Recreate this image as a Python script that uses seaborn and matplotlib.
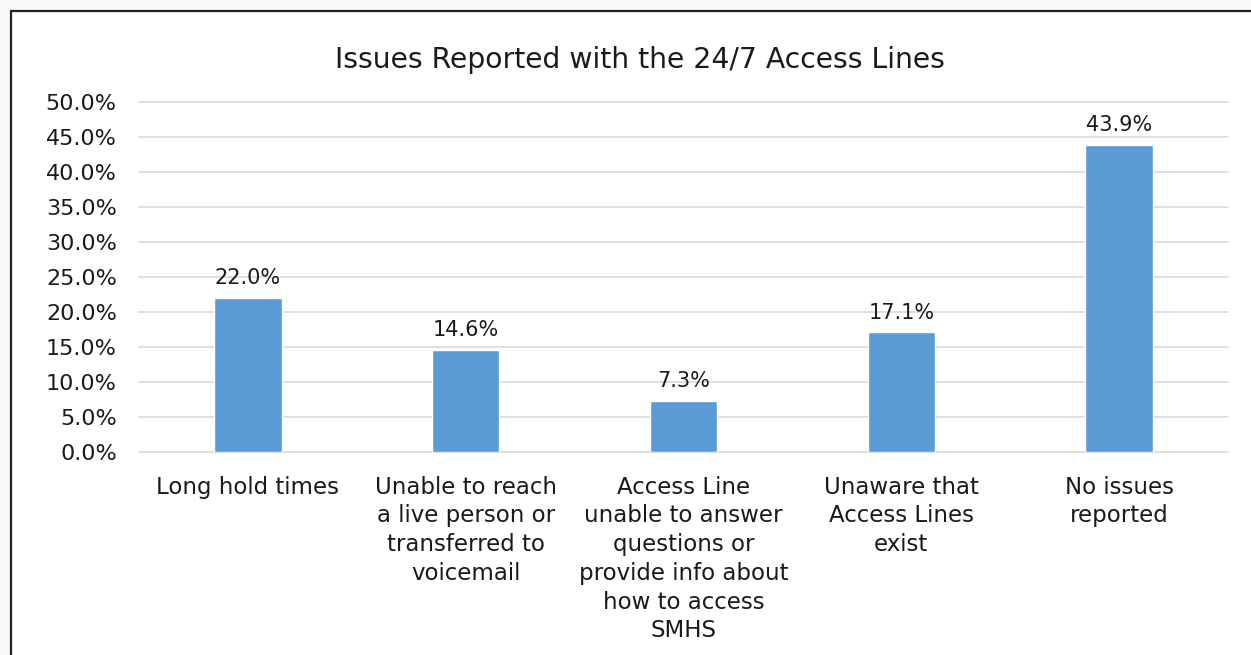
import matplotlib
matplotlib.use("Agg")
import matplotlib.pyplot as plt
from matplotlib.patches import Rectangle
from matplotlib.ticker import PercentFormatter
import pandas as pd
import seaborn as sns

categories = [
    "Long hold times",
    "Unable to reach\na live person or\ntransferred to\nvoicemail",
    "Access Line\nunable to answer\nquestions or\nprovide info about\nhow to access\nSMHS",
    "Unaware that\nAccess Lines\nexist",
    "No issues\nreported",
]
shares = [22.0, 14.6, 7.3, 17.1, 43.9]
y_ticks = [0, 5, 10, 15, 20, 25, 30, 35, 40, 45, 50]

df = pd.DataFrame({"issue": categories, "share": shares})

sns.set_theme(style="white")
plt.rcParams["font.family"] = ["DejaVu Sans"]
text_color = "#1a1a1a"

fig = plt.figure(figsize=(12.51, 6.55), dpi=100, facecolor="#fafafa")
# white chart card with a dark frame on the top and left edges
W, H = 1251, 655
fig.patches.append(Rectangle((10.5 / W, 0), 1 - 10.5 / W, 1 - 10.5 / H,
                             transform=fig.transFigure, facecolor="white",
                             edgecolor="none", zorder=-5))
fig.add_artist(plt.Line2D([10.5 / W, 1], [1 - 10.5 / H, 1 - 10.5 / H],
                          transform=fig.transFigure, color="#222222", lw=1.6))
fig.add_artist(plt.Line2D([10.5 / W, 10.5 / W], [0, 1 - 10.5 / H],
                          transform=fig.transFigure, color="#222222", lw=1.6))

ax = fig.add_axes([139 / W, 1 - 452 / H, (1228 - 139) / W, (452 - 102) / H])
ax.set_facecolor("none")
ax.set_zorder(2)

sns.barplot(data=df, x="issue", y="share", color="#5B9BD5", saturation=1,
            width=0.31, ax=ax, zorder=3)

ax.set_ylim(0, 50)
ax.set_yticks(y_ticks)
ax.yaxis.set_major_formatter(PercentFormatter(decimals=1))
ax.grid(axis="y", color="#d9d9d9", lw=1.2, zorder=0)
for gl in ax.get_ygridlines():
    gl.set_clip_on(False)
ax.set_axisbelow(True)
for s in ax.spines.values():
    s.set_visible(False)
ax.set_xlabel("")
ax.set_ylabel("")
ax.tick_params(axis="y", length=0, pad=16, labelsize=16, labelcolor=text_color)
ax.tick_params(axis="x", length=0, pad=17, labelsize=16.5, labelcolor=text_color)
for lbl in ax.get_xticklabels():
    lbl.set_linespacing(1.32)
ax.set_xlim(-0.5, len(categories) - 0.5)

for cont in ax.containers:
    ax.bar_label(cont, labels=[f"{v:.1f}%" for v in shares], padding=7,
                 fontsize=15, color=text_color)

fig.text(640 / W, 1 - 60 / H, "Issues Reported with the 24/7 Access Lines",
         ha="center", va="center", fontsize=20.3, color=text_color)

fig.savefig("out.png", dpi=100, facecolor=fig.get_facecolor())
